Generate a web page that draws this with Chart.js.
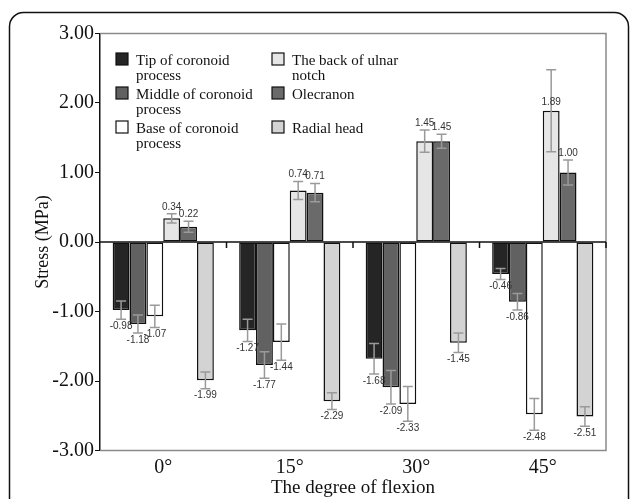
<!DOCTYPE html>
<html>
<head>
<meta charset="utf-8">
<script src="https://cdn.jsdelivr.net/npm/chart.js@4"></script>
<style>
  html, body { margin: 0; padding: 0; background: #fff; }
  #wrap { width: 630px; height: 499px; position: relative; }
</style>
</head>
<body>
<div id="wrap"><canvas id="myChart"></canvas></div>
<script>
// categories and series
const categories = ['0°', '15°', '30°', '45°'];
const seriesNames = ['Tip of coronoid process', 'Middle of coronoid process', 'Base of coronoid process',
  'The back of ulnar notch', 'Olecranon', 'Radial head'];
const seriesColors = ['#252525', '#616161', '#ffffff', '#e6e6e6', '#6a6a6a', '#d3d3d3'];

// mean stress (MPa)
const tipOfCoronoid = [-0.98, -1.27, -1.68, -0.46];
const middleOfCoronoid = [-1.18, -1.77, -2.09, -0.86];
const baseOfCoronoid = [-1.07, -1.44, -2.33, -2.48];
const backOfUlnarNotch = [0.34, 0.74, 1.45, 1.89];
const olecranon = [0.22, 0.71, 1.45, 1.00];
const radialHead = [-1.99, -2.29, -1.45, -2.51];

// error bar half widths
const tipErr = [0.13, 0.16, 0.22, 0.08];
const middleErr = [0.13, 0.19, 0.24, 0.12];
const baseErr = [0.16, 0.26, 0.25, 0.23];
const backErr = [0.065, 0.13, 0.16, 0.59];
const olecranonErr = [0.08, 0.13, 0.10, 0.18];
const radialErr = [0.12, 0.12, 0.14, 0.14];

const yTicks = [-3, -2, -1, 0, 1, 2, 3];

const allValues = [tipOfCoronoid, middleOfCoronoid, baseOfCoronoid, backOfUlnarNotch, olecranon, radialHead];
const allErrors = [tipErr, middleErr, baseErr, backErr, olecranonErr, radialErr];

const serif = '"Liberation Serif", "Times New Roman", serif';

// frame, zero line, error bars, value labels, legend
const extras = {
  id: 'extras',
  beforeDraw(chart) {
    const c = chart.ctx;
    c.save();
    c.strokeStyle = '#111';
    c.lineWidth = 1.5;
    c.beginPath();
    c.roundRect(9.5, 12.5, 619, 520, 14);
    c.stroke();
    c.restore();
  },
  afterDatasetsDraw(chart) {
    const c = chart.ctx;
    const area = chart.chartArea;
    const y = chart.scales.y;
    const x = chart.scales.x;
    const zero = y.getPixelForValue(0);

    // plot frame top/right/bottom
    c.save();
    c.strokeStyle = '#8a8a8a';
    c.lineWidth = 1.5;
    c.beginPath();
    c.moveTo(area.left, area.top);
    c.lineTo(area.right, area.top);
    c.lineTo(area.right, area.bottom);
    c.lineTo(area.left, area.bottom);
    c.stroke();

    // zero line + small category ticks
    c.strokeStyle = '#111';
    c.beginPath();
    c.moveTo(area.left, zero);
    c.lineTo(area.right, zero);
    for (let i = 0; i < categories.length; i++) {
      let bx = i < categories.length - 1
        ? (x.getPixelForTick(i) + x.getPixelForTick(i + 1)) / 2
        : area.right;
      c.moveTo(bx, zero);
      c.lineTo(bx, zero + 6);
    }
    c.stroke();

    // error bars
    c.strokeStyle = '#9a9a9a';
    c.lineWidth = 1.5;
    allValues.forEach((vals, d) => {
      const meta = chart.getDatasetMeta(d);
      vals.forEach((v, j) => {
        const bx = meta.data[j].x;
        const e = allErrors[d][j];
        const y1 = y.getPixelForValue(v - e);
        const y2 = y.getPixelForValue(v + e);
        c.beginPath();
        c.moveTo(bx, y1); c.lineTo(bx, y2);
        c.moveTo(bx - 5, y1); c.lineTo(bx + 5, y1);
        c.moveTo(bx - 5, y2); c.lineTo(bx + 5, y2);
        c.stroke();
      });
    });

    // value labels
    c.fillStyle = '#333';
    c.font = '10px "Liberation Sans", Arial, sans-serif';
    c.textAlign = 'center';
    c.textBaseline = 'middle';
    allValues.forEach((vals, d) => {
      const meta = chart.getDatasetMeta(d);
      vals.forEach((v, j) => {
        const bx = meta.data[j].x;
        const e = allErrors[d][j];
        let ly;
        if (v < 0) ly = y.getPixelForValue(v - e) + 7;
        else if (e > 0.4) ly = y.getPixelForValue(v) - 8;
        else ly = y.getPixelForValue(v + e) - 7;
        c.fillText(v.toFixed(2), bx, ly);
      });
    });

    // legend, two columns, wrapped text
    c.font = '15px ' + serif;
    c.textAlign = 'left';
    c.textBaseline = 'alphabetic';
    const maxW = 122;
    chart.data.datasets.forEach((ds, d) => {
      const col = Math.floor(d / 3);
      const row = d % 3;
      const bx = area.left + 16 + col * 156;
      const base = area.top + 31.5 + row * 34;
      c.fillStyle = ds.backgroundColor;
      c.fillRect(bx, base - 12, 12, 12);
      c.strokeStyle = '#111';
      c.lineWidth = 1.2;
      c.strokeRect(bx, base - 12, 12, 12);
      // wrap words
      const words = ds.label.split(' ');
      const lines = [];
      let line = '';
      words.forEach(w => {
        const t = line ? line + ' ' + w : w;
        if (c.measureText(t).width > maxW && line) { lines.push(line); line = w; }
        else line = t;
      });
      lines.push(line);
      c.fillStyle = '#111';
      lines.forEach((l, k) => c.fillText(l, bx + 20, base + k * 14.5));
    });
    c.restore();
  }
};

const ctx = document.getElementById('myChart');

new Chart(ctx, {
  type: 'bar',
  data: {
    labels: categories,
    datasets: seriesNames.map((name, i) => ({
      label: name,
      data: allValues[i],
      backgroundColor: seriesColors[i],
      borderColor: '#111',
      borderWidth: 1.5,
      borderSkipped: false,
      categoryPercentage: 0.8,
      barPercentage: 1.0
    }))
  },
  options: {
    responsive: true,
    maintainAspectRatio: false,
    animation: false,
    devicePixelRatio: 1,
    layout: { padding: { top: 33.5, right: 24, left: 0, bottom: 0 } },
    plugins: {
      legend: { display: false },
      tooltip: { enabled: false }
    },
    scales: {
      x: {
        grid: { display: false, drawTicks: false },
        border: { display: false },
        ticks: { color: '#111', font: { family: serif, size: 20 }, padding: 5 },
        title: { display: true, text: 'The degree of flexion', color: '#111',
          font: { family: serif, size: 19 }, padding: { top: 0, bottom: 0 } },
        afterFit(scale) { scale.height = 48.5; }
      },
      y: {
        min: -3, max: 3,
        afterBuildTicks(scale) { scale.ticks = yTicks.map(v => ({ value: v })); },
        grid: { drawOnChartArea: false, drawTicks: true, tickLength: 5, color: '#111' },
        border: { display: true, color: '#111', width: 1.5 },
        ticks: { color: '#111', font: { family: serif, size: 20 }, padding: 1,
          callback: v => Number(v).toFixed(2) },
        title: { display: true, text: 'Stress (MPa)', color: '#111',
          font: { family: serif, size: 18 }, padding: { top: 32, bottom: 0 } },
        afterFit(scale) { scale.width = 100; }
      }
    }
  },
  plugins: [extras]
});
</script>
</body>
</html>
